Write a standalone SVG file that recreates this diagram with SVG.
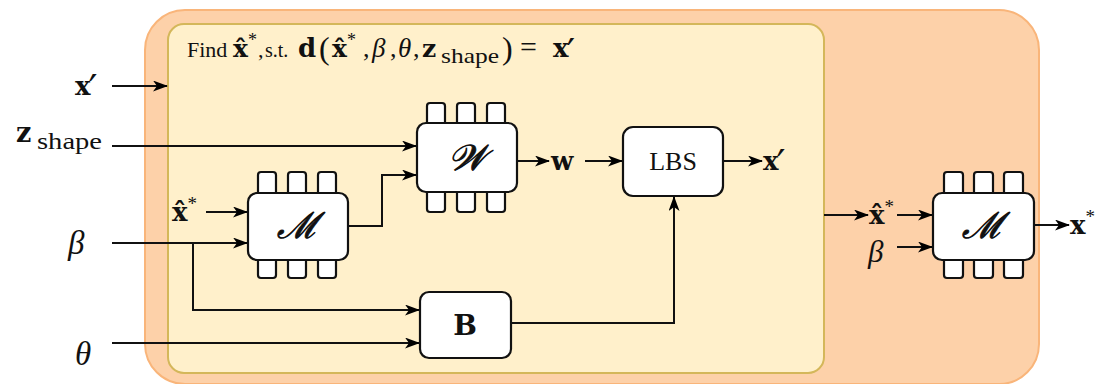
<svg xmlns="http://www.w3.org/2000/svg" width="1107" height="384" viewBox="0 0 1107 384">
  <defs>
    <marker id="arr" markerWidth="15" markerHeight="11" refX="14" refY="5.5" orient="auto" markerUnits="userSpaceOnUse">
      <path d="M0,0 L15,5.5 L0,11 L4,5.5 z" fill="#000"/>
    </marker>
    <style>
      .outer { fill: #fdd1a9; stroke: #f9b57a; stroke-width: 2; }
      .inner { fill: #fff0cb; stroke: #d4b75a; stroke-width: 2; }
      .body { fill: #fff; stroke: #111; stroke-width: 2.2; }
      .pin { fill: #fff; stroke: #111; stroke-width: 2.2; }
      .arr { fill: none; stroke: #111; stroke-width: 2; marker-end: url(#arr); }
      .rm { font-family: "Liberation Serif", serif; fill: #111; }
      .bf { font-family: "DejaVu Serif", "Liberation Serif", serif; font-weight: bold; fill: #111; }
      .it { font-family: "Liberation Serif", serif; font-style: italic; fill: #111; }
      .cal { font-family: "DejaVu Serif", "Liberation Serif", serif; font-style: italic; fill: #111; stroke: #111; stroke-width: 0.9; }
      .pr { font-family: "DejaVu Serif", serif; font-weight: normal; }
      .sup { font-family: "Liberation Serif", serif; font-weight: normal; }
    </style>
  </defs>

  <!-- containers -->
  <rect class="outer" x="145" y="10" width="894" height="374" rx="40"/>
  <rect class="inner" x="168" y="24" width="656" height="349" rx="16"/>

  <!-- title -->
  <g id="title">
    <text class="rm" x="187" y="57" font-size="22">Find</text>
    <text class="bf" x="233" y="57" font-size="25">x̂<tspan class="sup" font-size="18" dy="-11">*</tspan></text>
    <text class="rm" x="258" y="57" font-size="22">,</text>
    <text class="rm" x="265" y="57" font-size="20">s.t.</text>
    <text class="bf" x="298" y="57" font-size="26">d</text>
    <text class="rm" x="319" y="59" font-size="32">(</text>
    <text class="bf" x="332" y="57" font-size="25">x̂<tspan class="sup" font-size="18" dy="-11">*</tspan></text>
    <text class="rm" x="363" y="57" font-size="26">,</text>
    <text class="it" x="372" y="57" font-size="27">β</text>
    <text class="rm" x="390" y="57" font-size="26">,</text>
    <text class="it" x="398" y="57" font-size="27">θ</text>
    <text class="rm" x="413" y="57" font-size="26">,</text>
    <text class="bf" x="422" y="57" font-size="25">z</text>
    <text class="rm" x="441" y="63" font-size="21" textLength="58" lengthAdjust="spacingAndGlyphs">shape</text>
    <text class="rm" x="502" y="59" font-size="32">)</text>
    <text class="rm" x="520" y="57" font-size="30">=</text>
    <text class="bf" x="553" y="57" font-size="26">x<tspan class="pr" font-size="38" dx="-2" dy="8">′</tspan></text>
  </g>

  <!-- connectors -->
  <g id="connectors">
    <line class="arr" x1="112" y1="86" x2="167" y2="86"/>
    <line class="arr" x1="112" y1="146" x2="416" y2="146"/>
    <polyline class="arr" points="349,226 382,226 382,175 416,175"/>
    <line class="arr" x1="206" y1="212" x2="247" y2="212"/>
    <line class="arr" x1="112" y1="243" x2="247" y2="243"/>
    <polyline class="arr" points="193,243 193,310 419,310"/>
    <line class="arr" x1="112" y1="343" x2="419" y2="343"/>
    <line class="arr" x1="518" y1="161" x2="549" y2="161"/>
    <line class="arr" x1="585" y1="161" x2="622" y2="161"/>
    <line class="arr" x1="724" y1="161" x2="762" y2="161"/>
    <polyline class="arr" points="512,323 674,323 674,197"/>
    <line class="arr" x1="824" y1="215" x2="868" y2="215"/>
    <line class="arr" x1="897" y1="215" x2="932" y2="215"/>
    <line class="arr" x1="897" y1="247" x2="932" y2="247"/>
    <line class="arr" x1="1035" y1="225" x2="1069" y2="225"/>
  </g>

  <!-- input / output labels -->
  <g id="labels">
    <text class="bf" x="75" y="95" font-size="26">x<tspan class="pr" font-size="40" dx="-2" dy="8">′</tspan></text>
    <text class="bf" x="16" y="142" font-size="27">z</text>
    <text class="rm" x="37" y="149" font-size="24" textLength="65" lengthAdjust="spacingAndGlyphs">shape</text>
    <text class="it" x="68" y="254" font-size="33">β</text>
    <text class="it" x="75" y="365" font-size="33">θ</text>
    <text class="bf" x="172" y="221" font-size="26">x̂<tspan class="sup" font-size="19" dy="-11">*</tspan></text>
    <text class="bf" x="551" y="170" font-size="26">w</text>
    <text class="bf" x="763" y="170" font-size="26">x<tspan class="pr" font-size="40" dx="-2" dy="8">′</tspan></text>
    <text class="bf" x="869" y="224" font-size="26">x̂<tspan class="sup" font-size="19" dy="-11">*</tspan></text>
    <text class="it" x="868" y="262" font-size="31">β</text>
    <text class="bf" x="1070" y="234" font-size="26">x<tspan class="sup" font-size="19" dy="-11">*</tspan></text>
  </g>

  <!-- motion model M (inner) -->
  <g id="node-m">
    <rect class="pin" x="258" y="172" width="18" height="26" rx="3"/>
    <rect class="pin" x="288" y="172" width="18" height="26" rx="3"/>
    <rect class="pin" x="318" y="172" width="18" height="26" rx="3"/>
    <rect class="pin" x="258" y="255" width="18" height="23" rx="3"/>
    <rect class="pin" x="288" y="255" width="18" height="23" rx="3"/>
    <rect class="pin" x="318" y="255" width="18" height="23" rx="3"/>
    <rect class="body" x="248" y="193" width="100" height="67" rx="9"/>
    <text class="cal" x="298" y="238" font-size="36" text-anchor="middle">ℳ</text>
  </g>

  <!-- weight network W -->
  <g id="node-w">
    <rect class="pin" x="427" y="103" width="18" height="24" rx="3"/>
    <rect class="pin" x="457" y="103" width="18" height="24" rx="3"/>
    <rect class="pin" x="487" y="103" width="18" height="24" rx="3"/>
    <rect class="pin" x="427" y="188" width="18" height="24" rx="3"/>
    <rect class="pin" x="457" y="188" width="18" height="24" rx="3"/>
    <rect class="pin" x="487" y="188" width="18" height="24" rx="3"/>
    <rect class="body" x="417" y="123" width="100" height="69" rx="9"/>
    <text class="cal" x="467" y="170" font-size="36" text-anchor="middle">𝒲</text>
  </g>

  <!-- linear blend skinning -->
  <g id="node-lbs">
    <rect class="body" x="623" y="127" width="100" height="69" rx="10"/>
    <text class="rm" x="673" y="170" font-size="26" text-anchor="middle">LBS</text>
  </g>

  <!-- bone transforms B -->
  <g id="node-b">
    <rect class="body" x="420" y="292" width="91" height="66" rx="9"/>
    <text class="bf" x="465" y="335" font-size="28" text-anchor="middle">B</text>
  </g>

  <!-- motion model M (outer) -->
  <g id="node-m2">
    <rect class="pin" x="944" y="172" width="19" height="26" rx="3"/>
    <rect class="pin" x="974" y="172" width="19" height="26" rx="3"/>
    <rect class="pin" x="1004" y="172" width="19" height="26" rx="3"/>
    <rect class="pin" x="944" y="255" width="19" height="23" rx="3"/>
    <rect class="pin" x="974" y="255" width="19" height="23" rx="3"/>
    <rect class="pin" x="1004" y="255" width="19" height="23" rx="3"/>
    <rect class="body" x="933" y="193" width="101" height="67" rx="9"/>
    <text class="cal" x="983" y="238" font-size="36" text-anchor="middle">ℳ</text>
  </g>
</svg>
